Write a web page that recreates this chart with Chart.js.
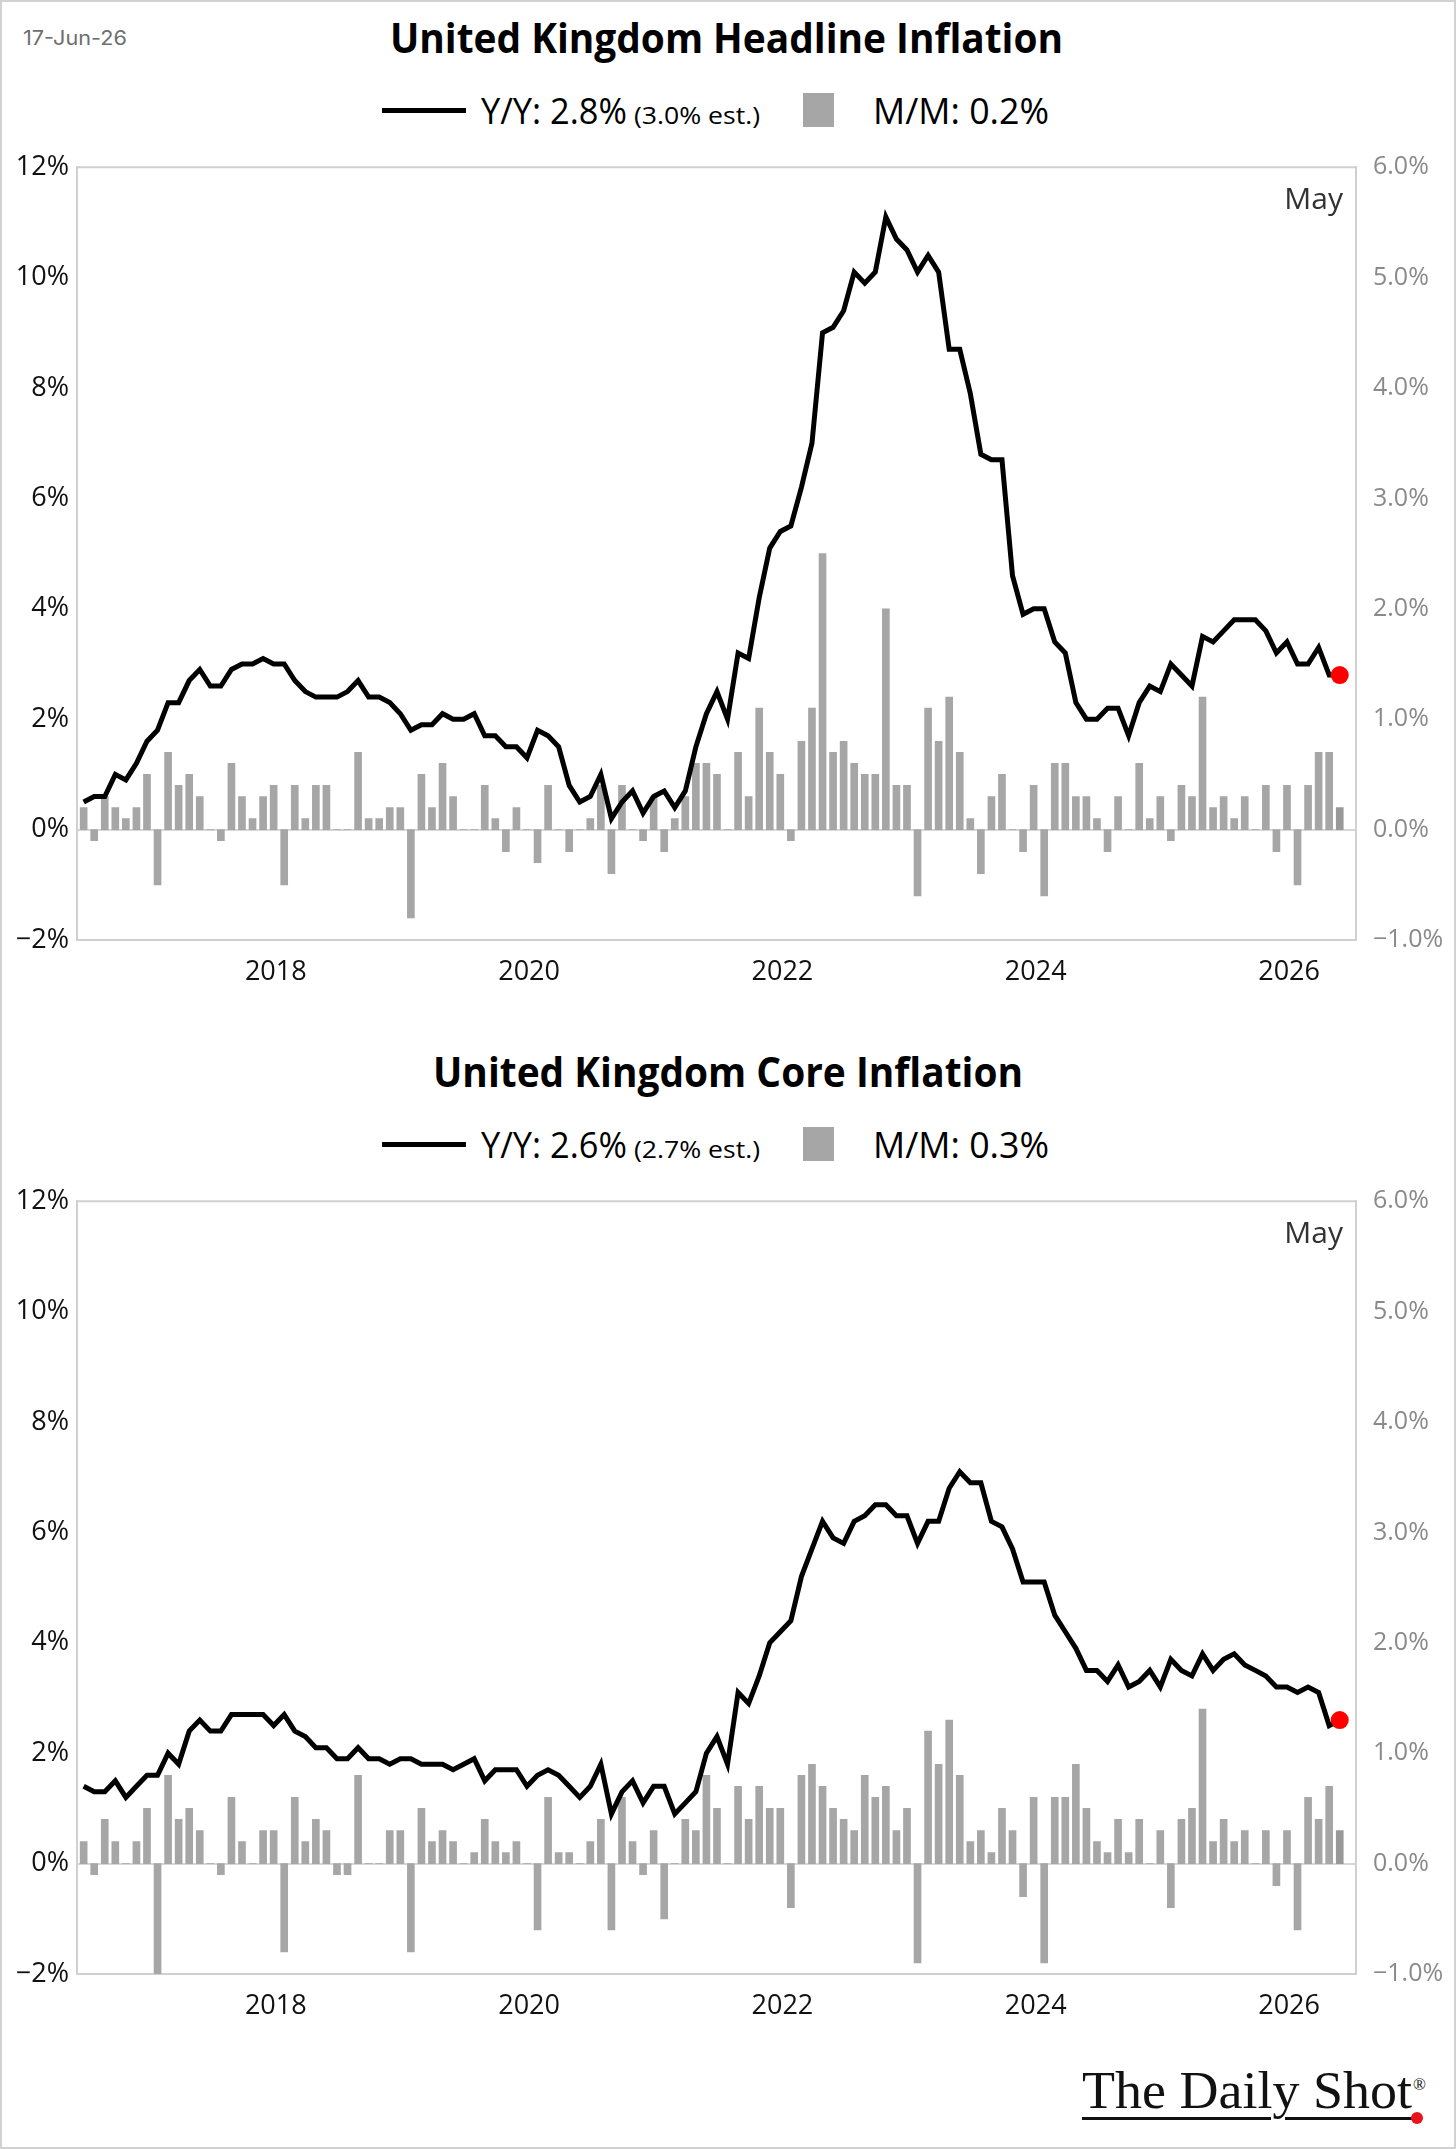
<!DOCTYPE html>
<html>
<head>
<meta charset="utf-8">
<script src="https://cdn.jsdelivr.net/npm/chart.js@4.4.1/dist/chart.umd.min.js"></script>
<style>
  html, body { margin: 0; padding: 0; background: #fff; }
  #page {
    position: relative; width: 1456px; height: 2149px; overflow: hidden;
    box-sizing: border-box; border: 2px solid #d2d2d2; background: #fff;
  }
  #page canvas { position: absolute; left: -2px; }
  .txt { position: absolute; white-space: nowrap; line-height: 1.2; }
  .swatch-line { position: absolute; background: #000; height: 5px; }
  .swatch-bar { position: absolute; background: #a6a6a6; }
</style>
</head>
<body>
<div id="page">
  <canvas id="headlineChart" width="1456" height="847" style="top:141px"></canvas>
  <canvas id="coreChart" width="1456" height="847" style="top:1175px"></canvas>
</div>
<script>
const months = [
  '2016-06','2016-07','2016-08','2016-09','2016-10','2016-11','2016-12',
  '2017-01','2017-02','2017-03','2017-04','2017-05','2017-06','2017-07','2017-08','2017-09','2017-10','2017-11','2017-12',
  '2018-01','2018-02','2018-03','2018-04','2018-05','2018-06','2018-07','2018-08','2018-09','2018-10','2018-11','2018-12',
  '2019-01','2019-02','2019-03','2019-04','2019-05','2019-06','2019-07','2019-08','2019-09','2019-10','2019-11','2019-12',
  '2020-01','2020-02','2020-03','2020-04','2020-05','2020-06','2020-07','2020-08','2020-09','2020-10','2020-11','2020-12',
  '2021-01','2021-02','2021-03','2021-04','2021-05','2021-06','2021-07','2021-08','2021-09','2021-10','2021-11','2021-12',
  '2022-01','2022-02','2022-03','2022-04','2022-05','2022-06','2022-07','2022-08','2022-09','2022-10','2022-11','2022-12',
  '2023-01','2023-02','2023-03','2023-04','2023-05','2023-06','2023-07','2023-08','2023-09','2023-10','2023-11','2023-12',
  '2024-01','2024-02','2024-03','2024-04','2024-05','2024-06','2024-07','2024-08','2024-09','2024-10','2024-11','2024-12',
  '2025-01','2025-02','2025-03','2025-04','2025-05','2025-06','2025-07','2025-08','2025-09','2025-10','2025-11','2025-12',
  '2026-01','2026-02','2026-03','2026-04','2026-05'
];

const yearTicks = ['2018', '2020', '2022', '2024', '2026'];

// Headline CPI
const headlineYoY = [
  0.5, 0.6, 0.6, 1.0, 0.9, 1.2, 1.6,
  1.8, 2.3, 2.3, 2.7, 2.9, 2.6, 2.6, 2.9, 3.0, 3.0, 3.1, 3.0,
  3.0, 2.7, 2.5, 2.4, 2.4, 2.4, 2.5, 2.7, 2.4, 2.4, 2.3, 2.1,
  1.8, 1.9, 1.9, 2.1, 2.0, 2.0, 2.1, 1.7, 1.7, 1.5, 1.5, 1.3,
  1.8, 1.7, 1.5, 0.8, 0.5, 0.6, 1.0, 0.2, 0.5, 0.7, 0.3, 0.6,
  0.7, 0.4, 0.7, 1.5, 2.1, 2.5, 2.0, 3.2, 3.1, 4.2, 5.1, 5.4,
  5.5, 6.2, 7.0, 9.0, 9.1, 9.4, 10.1, 9.9, 10.1, 11.1, 10.7, 10.5,
  10.1, 10.4, 10.1, 8.7, 8.7, 7.9, 6.8, 6.7, 6.7, 4.6, 3.9, 4.0,
  4.0, 3.4, 3.2, 2.3, 2.0, 2.0, 2.2, 2.2, 1.7, 2.3, 2.6, 2.5,
  3.0, 2.8, 2.6, 3.5, 3.4, 3.6, 3.8, 3.8, 3.8, 3.6, 3.2, 3.4,
  3.0, 3.0, 3.3, 2.8, 2.8
];
const headlineMoM = [
  0.2, -0.1, 0.3, 0.2, 0.1, 0.2, 0.5,
  -0.5, 0.7, 0.4, 0.5, 0.3, 0.0, -0.1, 0.6, 0.3, 0.1, 0.3, 0.4,
  -0.5, 0.4, 0.1, 0.4, 0.4, 0.0, 0.0, 0.7, 0.1, 0.1, 0.2, 0.2,
  -0.8, 0.5, 0.2, 0.6, 0.3, 0.0, 0.0, 0.4, 0.1, -0.2, 0.2, 0.0,
  -0.3, 0.4, 0.0, -0.2, 0.0, 0.1, 0.4, -0.4, 0.4, 0.0, -0.1, 0.3,
  -0.2, 0.1, 0.3, 0.6, 0.6, 0.5, 0.0, 0.7, 0.3, 1.1, 0.7, 0.5,
  -0.1, 0.8, 1.1, 2.5, 0.7, 0.8, 0.6, 0.5, 0.5, 2.0, 0.4, 0.4,
  -0.6, 1.1, 0.8, 1.2, 0.7, 0.1, -0.4, 0.3, 0.5, 0.0, -0.2, 0.4,
  -0.6, 0.6, 0.6, 0.3, 0.3, 0.1, -0.2, 0.3, 0.0, 0.6, 0.1, 0.3,
  -0.1, 0.4, 0.3, 1.2, 0.2, 0.3, 0.1, 0.3, 0.0, 0.4, -0.2, 0.4,
  -0.5, 0.4, 0.7, 0.7, 0.2
];
const headlineEst = 3.0;

// Core CPI
const coreYoY = [
  1.4, 1.3, 1.3, 1.5, 1.2, 1.4, 1.6,
  1.6, 2.0, 1.8, 2.4, 2.6, 2.4, 2.4, 2.7, 2.7, 2.7, 2.7, 2.5,
  2.7, 2.4, 2.3, 2.1, 2.1, 1.9, 1.9, 2.1, 1.9, 1.9, 1.8, 1.9,
  1.9, 1.8, 1.8, 1.8, 1.7, 1.8, 1.9, 1.5, 1.7, 1.7, 1.7, 1.4,
  1.6, 1.7, 1.6, 1.4, 1.2, 1.4, 1.8, 0.9, 1.3, 1.5, 1.1, 1.4,
  1.4, 0.9, 1.1, 1.3, 2.0, 2.3, 1.8, 3.1, 2.9, 3.4, 4.0, 4.2,
  4.4, 5.2, 5.7, 6.2, 5.9, 5.8, 6.2, 6.3, 6.5, 6.5, 6.3, 6.3,
  5.8, 6.2, 6.2, 6.8, 7.1, 6.9, 6.9, 6.2, 6.1, 5.7, 5.1, 5.1,
  5.1, 4.5, 4.2, 3.9, 3.5, 3.5, 3.3, 3.6, 3.2, 3.3, 3.5, 3.2,
  3.7, 3.5, 3.4, 3.8, 3.5, 3.7, 3.8, 3.6, 3.5, 3.4, 3.2, 3.2,
  3.1, 3.2, 3.1, 2.5, 2.6
];
const coreMoM = [
  0.2, -0.1, 0.4, 0.2, 0.0, 0.2, 0.5,
  -1.0, 0.8, 0.4, 0.5, 0.3, 0.0, -0.1, 0.6, 0.2, 0.0, 0.3, 0.3,
  -0.8, 0.6, 0.2, 0.4, 0.3, -0.1, -0.1, 0.8, 0.0, 0.0, 0.3, 0.3,
  -0.8, 0.5, 0.2, 0.3, 0.2, 0.0, 0.1, 0.4, 0.2, 0.1, 0.2, 0.0,
  -0.6, 0.6, 0.1, 0.1, 0.0, 0.2, 0.4, -0.6, 0.6, 0.2, -0.1, 0.3,
  -0.5, 0.0, 0.4, 0.3, 0.8, 0.5, 0.0, 0.7, 0.4, 0.7, 0.5, 0.5,
  -0.4, 0.8, 0.9, 0.7, 0.5, 0.4, 0.3, 0.8, 0.6, 0.7, 0.3, 0.5,
  -0.9, 1.2, 0.9, 1.3, 0.8, 0.2, 0.3, 0.1, 0.5, 0.3, -0.3, 0.6,
  -0.9, 0.6, 0.6, 0.9, 0.5, 0.2, 0.1, 0.4, 0.1, 0.4, 0.0, 0.3,
  -0.4, 0.4, 0.5, 1.4, 0.2, 0.4, 0.2, 0.3, 0.0, 0.3, -0.2, 0.3,
  -0.6, 0.6, 0.4, 0.7, 0.3
];
const coreEst = 2.7;

const lastMonthLabel = 'May';

const FONT = "'Open Sans', 'Noto Sans', sans-serif";
const NARROW = "'Liberation Sans Narrow', 'Open Sans', sans-serif";

// year labels sit at the turn of the year, just before each January bar
const tickPositions = yearTicks.map(y => months.indexOf(y + '-01') - 0.8);

function pct(v, digits) {
    const s = Math.abs(v).toFixed(digits) + '%';
    return v < 0 ? '\u2212' + s : s;
}

const framePlugin = {
    id: 'frame',
    afterDraw(chart) {
        const { ctx, chartArea } = chart;
        ctx.save();
        ctx.strokeStyle = '#d0d0d0';
        ctx.lineWidth = 2;
        ctx.beginPath();
        ctx.moveTo(chartArea.left, chartArea.top);
        ctx.lineTo(chartArea.right, chartArea.top);
        ctx.stroke();
        ctx.fillStyle = '#333';
        ctx.font = "30px " + FONT;
        ctx.textAlign = 'right';
        ctx.textBaseline = 'middle';
        ctx.fillText(lastMonthLabel, chartArea.right - 13, chartArea.top + 33);
        ctx.restore();
    }
};

function makeChart(el, yoy, mom) {
    const last = yoy.length - 1;
    return new Chart(el, {
        data: {
            datasets: [{
                type: 'line',
                label: 'Y/Y',
                data: yoy.map((v, i) => ({ x: i, y: v })),
                yAxisID: 'y',
                borderColor: '#000',
                borderWidth: 5,
                tension: 0,
                pointRadius: ctx => ctx.dataIndex === last ? 9 : 0,
                pointBackgroundColor: '#ff0000',
                pointBorderWidth: 0,
            }, {
                type: 'bar',
                label: 'M/M',
                data: mom.map((v, i) => ({ x: i, y: v })),
                yAxisID: 'y2',
                backgroundColor: ctx => ctx.dataIndex === last ? '#989898' : '#a6a6a6',
                barThickness: 7,
            }]
        },
        options: {
            responsive: false,
            animation: false,
            layout: { padding: { top: 20, left: 0, right: 0, bottom: 0 } },
            plugins: {
                legend: { display: false },
                tooltip: { enabled: false },
            },
            scales: {
                x: {
                    type: 'linear',
                    offset: false,
                    min: -0.63,
                    max: months.length + 0.54,
                    afterBuildTicks: scale => {
                        scale.ticks = tickPositions.map(v => ({ value: v }));
                    },
                    afterFit: scale => { scale.height = 50; },
                    ticks: {
                        autoSkip: false,
                        maxRotation: 0,
                        padding: 8,
                        color: '#111',
                        font: { family: FONT, size: 27 },
                        callback: v => yearTicks[tickPositions.indexOf(v)],
                    },
                    grid: { display: false, offset: false },
                    border: { color: '#d0d0d0', width: 2 },
                },
                y: {
                    position: 'left',
                    min: -2,
                    max: 12,
                    afterFit: scale => { scale.width = 77; },
                    ticks: {
                        stepSize: 2,
                        padding: 8,
                        color: '#111',
                        font: { family: FONT, size: 27 },
                        callback: v => pct(v, 0),
                    },
                    grid: {
                        drawTicks: false,
                        lineWidth: 2,
                        color: ctx => ctx.tick && ctx.tick.value === 0 ? '#d6d6d6' : 'rgba(0,0,0,0)',
                    },
                    border: { color: '#d0d0d0', width: 2 },
                },
                y2: {
                    position: 'right',
                    min: -1,
                    max: 6,
                    afterFit: scale => { scale.width = 100; },
                    ticks: {
                        stepSize: 1,
                        padding: 9,
                        color: '#8a8a8a',
                        font: { family: FONT, size: 25 },
                        callback: v => pct(v, 1),
                    },
                    grid: { display: false },
                    border: { color: '#d0d0d0', width: 2 },
                },
            },
        },
        plugins: [framePlugin],
    });
}

makeChart(document.getElementById('headlineChart'), headlineYoY, headlineMoM);
makeChart(document.getElementById('coreChart'), coreYoY, coreMoM);

// Text: titles, legends, date and logo as HTML, fitted to the reference widths
const page = document.getElementById('page');

function placeText(text, o) {
    const el = document.createElement('div');
    el.className = 'txt';
    el.style.font = o.font;
    el.style.color = o.color || '#000';
    el.textContent = text;
    const mark = document.createElement('span');
    mark.style.cssText = 'display:inline-block;width:0;height:0;';
    el.appendChild(mark);
    page.appendChild(el);
    const w = el.getBoundingClientRect().width;
    const base = mark.offsetTop;
    el.style.left = (o.x - 2) + 'px';
    el.style.top = (o.baseline - base - 2) + 'px';
    if (o.width) {
        el.style.transformOrigin = '0 0';
        el.style.transform = 'scaleX(' + (o.width / w) + ')';
    }
    return el;
}

function box(cls, x, y, w, h) {
    const d = document.createElement('div');
    d.className = cls;
    d.style.left = (x - 2) + 'px';
    d.style.top = (y - 2) + 'px';
    d.style.width = w + 'px';
    d.style.height = h + 'px';
    page.appendChild(d);
}

function header(title, titleX, titleW, dy, yoy, mom, est) {
    placeText(title, { x: titleX, width: titleW, baseline: 53 + dy, font: '700 42px ' + NARROW });
    box('swatch-line', 382, 107.5 + dy, 84, 5);
    placeText('Y/Y: ' + yoy.at(-1).toFixed(1) + '%', { x: 481, width: 146, baseline: 124 + dy, font: '400 36px ' + NARROW });
    placeText('(' + est.toFixed(1) + '% est.)', { x: 634, width: 126, baseline: 124 + dy, font: '400 23px ' + NARROW });
    box('swatch-bar', 803, 93 + dy, 31, 34);
    placeText('M/M: ' + mom.at(-1).toFixed(1) + '%', { x: 873, width: 176, baseline: 124 + dy, font: '400 36px ' + NARROW });
}

placeText('17-Jun-26', { x: 23, width: 104, baseline: 45, font: "400 20px Inter, 'Open Sans', sans-serif", color: '#6e6e6e' });
header('United Kingdom Headline Inflation', 390, 673, 0, headlineYoY, headlineMoM, headlineEst);
header('United Kingdom Core Inflation', 433, 590, 1034, coreYoY, coreMoM, coreEst);

// The Daily Shot logo
const logo = placeText('The Daily Shot', { x: 1082, width: 330, baseline: 2108, font: "400 52px 'Liberation Serif', 'DejaVu Serif', serif", color: '#111' });
logo.style.textDecoration = 'underline';
logo.style.textDecorationThickness = '3px';
logo.style.textUnderlineOffset = '9px';
logo.style.textDecorationSkipInk = 'auto';
placeText('\u00AE', { x: 1413, baseline: 2090, font: "400 17px 'Liberation Serif', serif", color: '#111' });
const dot = document.createElement('div');
dot.style.cssText = 'position:absolute;width:12px;height:12px;border-radius:50%;background:#e8141c;left:' + (1411 - 2) + 'px;top:' + (2112 - 2) + 'px;';
page.appendChild(dot);
</script>
</body>
</html>
